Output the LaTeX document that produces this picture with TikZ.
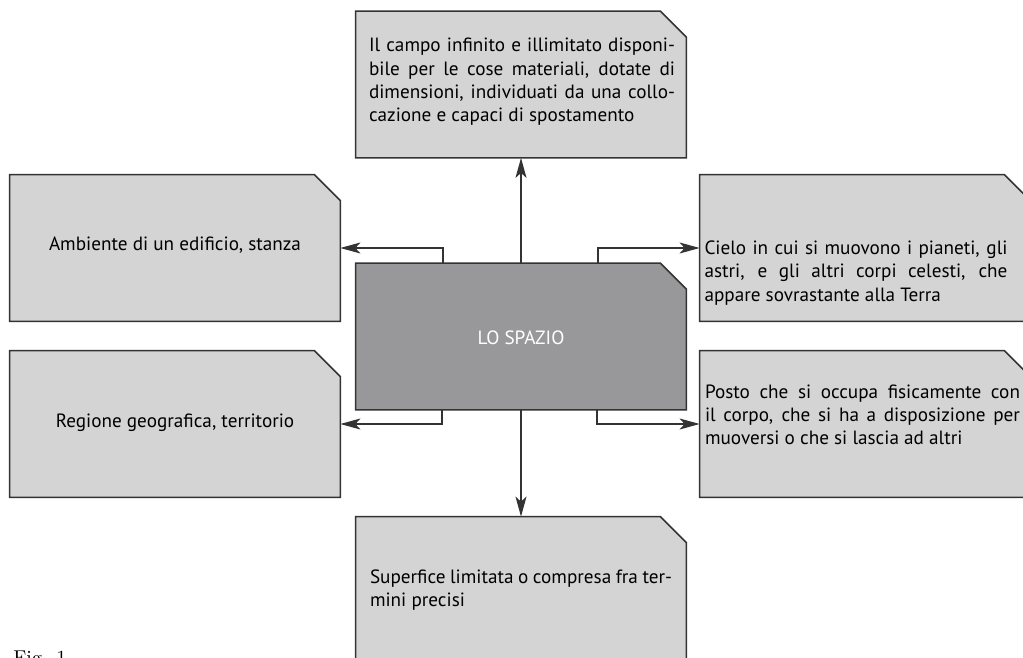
\documentclass[tikz,border=0pt]{standalone}
\usepackage{fontspec}
\setsansfont{PT Sans}
\usetikzlibrary{arrows.meta}

\definecolor{cardfill}{HTML}{D4D4D4}
\definecolor{corefill}{HTML}{98989A}
\definecolor{edgegray}{HTML}{333333}

\tikzset{
  card/.style={rectangle, minimum width=165pt, minimum height=73pt, inner sep=0pt},
  outline/.style={draw=edgegray, line width=0.8pt, fill=cardfill},
  desc/.style={font=\sffamily\fontsize{9.6}{11.65}\selectfont, inner sep=0pt},
  link/.style={draw=edgegray, line width=0.7pt,
    -{Stealth[length=10pt,width=5.5pt,inset=2.5pt]}},
}

\begin{document}
\begin{tikzpicture}[x=0.5pt,y=-0.5pt]
    \useasboundingbox (0,0) rectangle (1023,658);

    % boxes
    \node[card] (centro) at (521,336.5) {};
    \node[card] (campo) at (521,84.5) {};
    \node[card] (ambiente) at (175,248) {};
    \node[card] (regione) at (175,424) {};
    \node[card] (cielo) at (865,248) {};
    \node[card] (posto) at (865,424) {};
    \node[card] (superficie) at (521,590) {};

    % cut corner outlines
    \foreach \b/\f in {centro/corefill,campo/cardfill,ambiente/cardfill,regione/cardfill,cielo/cardfill,posto/cardfill,superficie/cardfill}
      \draw[outline, fill=\f] (\b.south west) -- (\b.north west) -- ([xshift=-13pt]\b.north east)
        -- ([yshift=-13pt]\b.north east) -- (\b.south east) -- cycle;

    % texts
    \node[desc, text=white] (t-centro) at (521,338) {LO SPAZIO};
    \node[desc] (t-ambiente) at (175,245) {Ambiente di un edificio, stanza};
    \node[desc] (t-regione) at (175,423) {Regione geografica, territorio};
    \node[desc, text width=153pt, align=justify] (t-campo) at (522,82)
      {Il campo infinito e illimitato disponi-\linebreak bile per le cose materiali, dotate di\linebreak dimensioni, individuati da una collo-\linebreak cazione e capaci di spostamento};
    \node[desc, text width=151.5pt, align=justify] (t-cielo) at (856,273)
      {Cielo in cui si muovono i pianeti, gli\linebreak astri, e gli altri corpi celesti, che\linebreak appare sovrastante alla Terra};
    \node[desc, text width=157.5pt, align=justify] (t-posto) at (862.5,415)
      {Posto che si occupa fisicamente con\linebreak il corpo, che si ha a disposizione per\linebreak muoversi o che si lascia ad altri};
    \node[desc, text width=151pt, align=justify] (t-superficie) at (521,590)
      {Superfice limitata o compresa fra ter-\linebreak mini precisi};

    % arrows
    \draw[link] (centro.north) -- (campo.south);
    \draw[link] ([xshift=-39pt]centro.north) |- (ambiente.east);
    \draw[link] ([xshift=38.5pt]centro.north) |- (cielo.west);
    \draw[link] ([xshift=-39.5pt]centro.south) |- (regione.east);
    \draw[link] ([xshift=38pt]centro.south) |- (posto.west);
    \draw[link] (centro.south) -- (superficie.north);

    \node[anchor=north west, inner sep=0pt, font=\fontsize{10}{12}\selectfont] (fig) at (13,650) {Fig. 1};
\end{tikzpicture}
\end{document}
